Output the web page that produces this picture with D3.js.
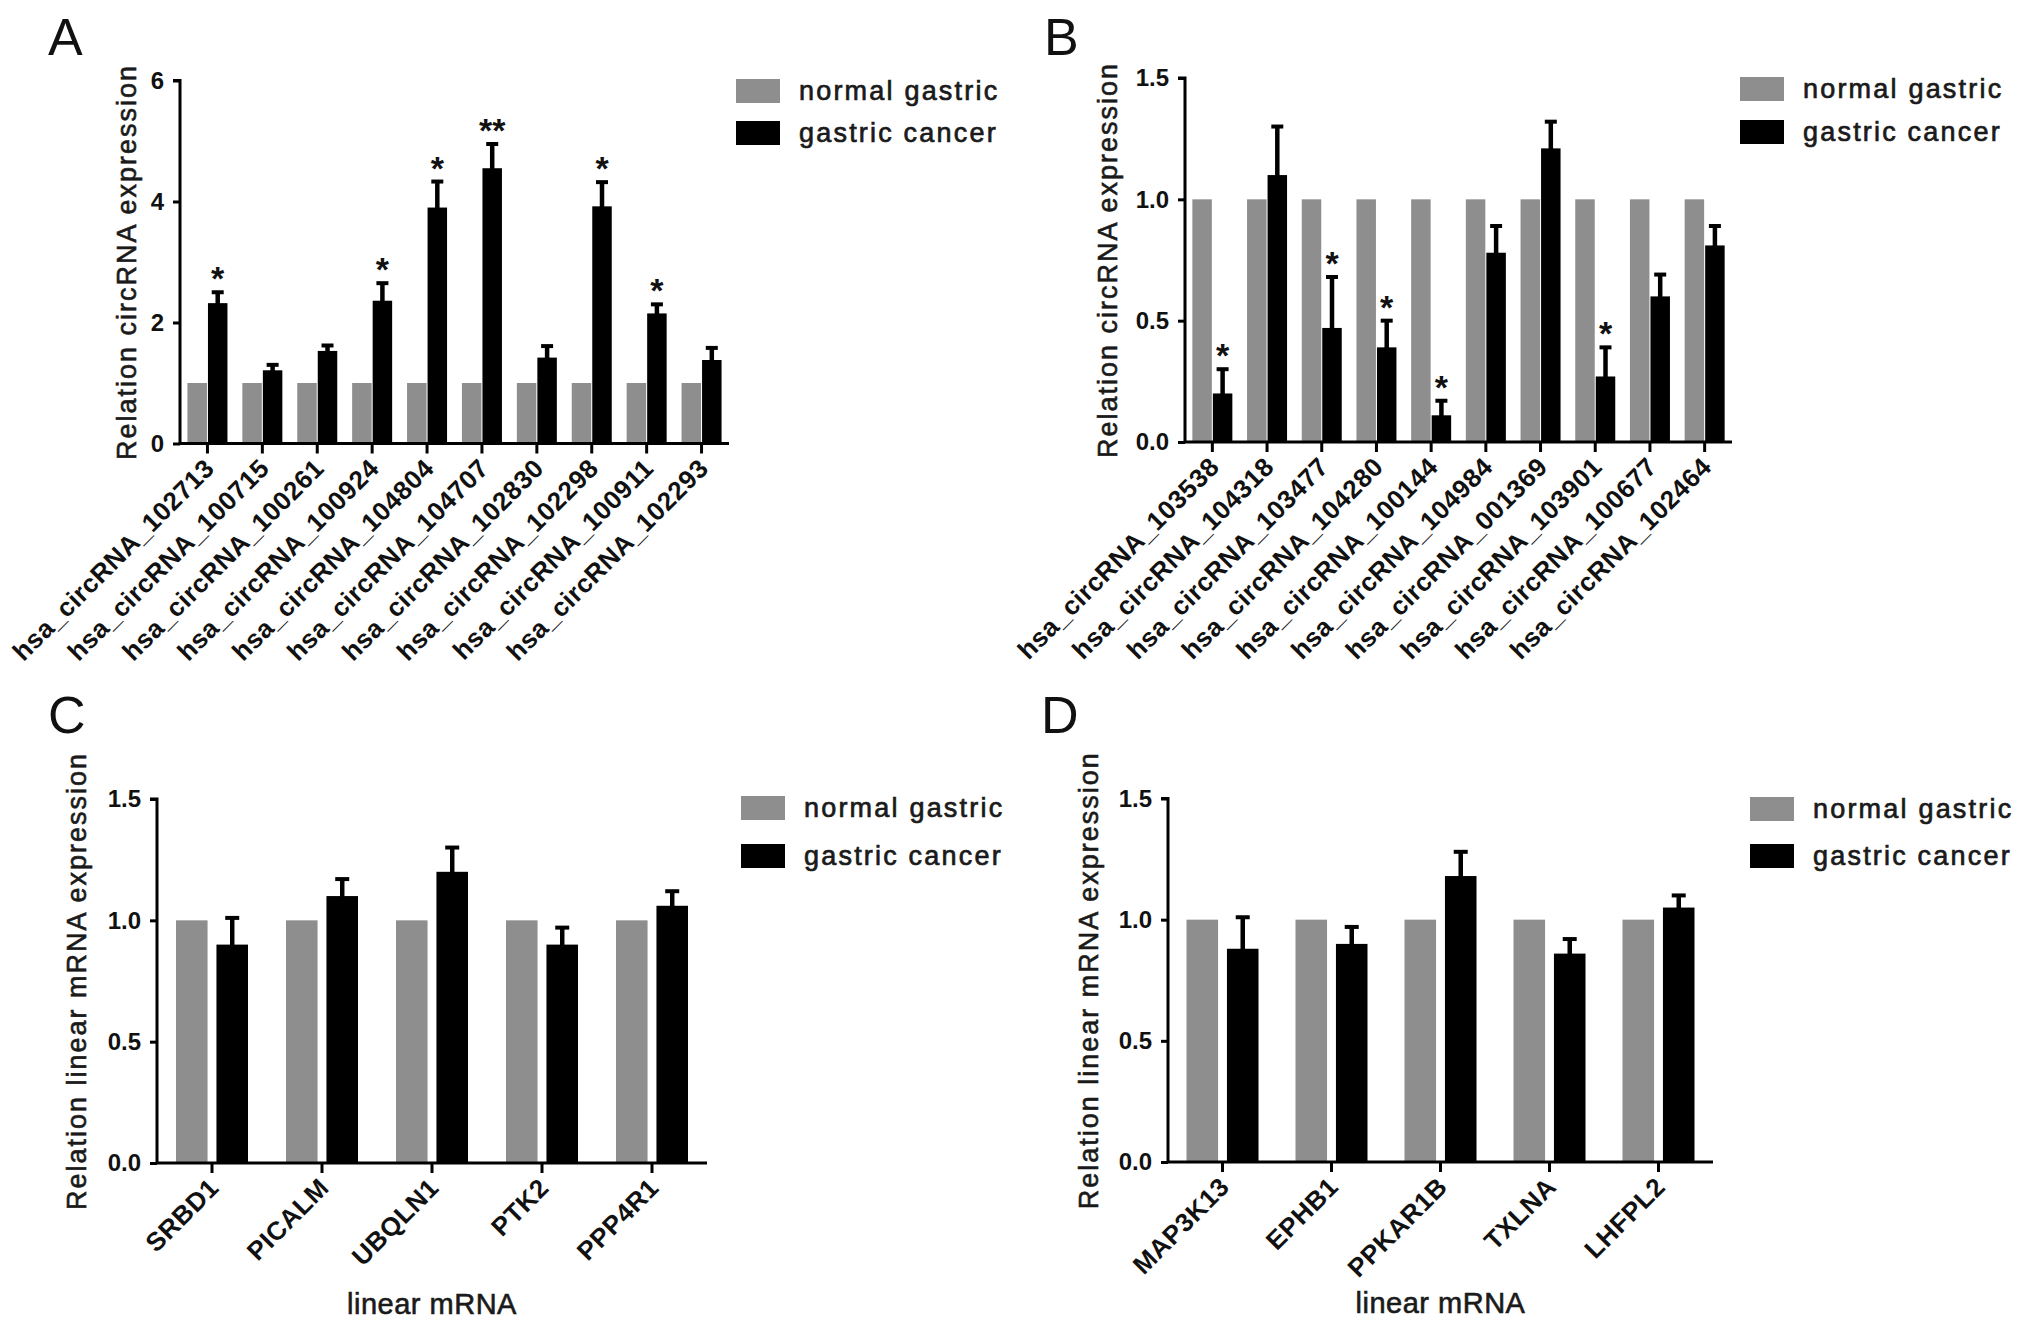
<!DOCTYPE html>
<html>
<head>
<meta charset="utf-8">
<script src="https://cdn.jsdelivr.net/npm/d3@7"></script>
<style>
  body { margin: 0; background: #fff; }
  svg { display: block; font-family: "Liberation Sans", Arial, sans-serif; }
</style>
</head>
<body>
<div id="chart"></div>
<script>
// series names
const seriesNames = ["normal gastric", "gastric cancer"];
const seriesColors = ["#8e8e8e", "#000000"];

// panel A - circRNA up
const genesA = ["hsa_circRNA_102713", "hsa_circRNA_100715", "hsa_circRNA_100261", "hsa_circRNA_100924", "hsa_circRNA_104804",
  "hsa_circRNA_104707", "hsa_circRNA_102830", "hsa_circRNA_102298", "hsa_circRNA_100911", "hsa_circRNA_102293"];
const normalA = [1, 1, 1, 1, 1, 1, 1, 1, 1, 1];
const cancerA = [2.32, 1.21, 1.53, 2.36, 3.90, 4.55, 1.42, 3.92, 2.15, 1.38];
const semA = [0.18, 0.09, 0.09, 0.29, 0.43, 0.40, 0.19, 0.40, 0.15, 0.20];
const starsA = ["*", "", "", "*", "*", "**", "", "*", "*", ""];
const ticksA = [0, 2, 4, 6];

// panel B - circRNA down
const genesB = ["hsa_circRNA_103538", "hsa_circRNA_104318", "hsa_circRNA_103477", "hsa_circRNA_104280", "hsa_circRNA_100144",
  "hsa_circRNA_104984", "hsa_circRNA_001369", "hsa_circRNA_103901", "hsa_circRNA_100677", "hsa_circRNA_102464"];
const normalB = [1, 1, 1, 1, 1, 1, 1, 1, 1, 1];
const cancerB = [0.20, 1.10, 0.47, 0.39, 0.11, 0.78, 1.21, 0.27, 0.60, 0.81];
const semB = [0.10, 0.20, 0.21, 0.11, 0.06, 0.11, 0.11, 0.12, 0.09, 0.08];
const starsB = ["*", "", "*", "*", "*", "", "", "*", "", ""];

// panel C / D - linear mRNA
const genesC = ["SRBD1", "PICALM", "UBQLN1", "PTK2", "PPP4R1"];
const normalC = [1, 1, 1, 1, 1];
const cancerC = [0.90, 1.10, 1.20, 0.90, 1.06];
const semC = [0.11, 0.07, 0.10, 0.07, 0.06];

const genesD = ["MAP3K13", "EPHB1", "PPKAR1B", "TXLNA", "LHFPL2"];
const normalD = [1, 1, 1, 1, 1];
const cancerD = [0.88, 0.90, 1.18, 0.86, 1.05];
const semD = [0.13, 0.07, 0.10, 0.06, 0.05];

const ticksLinear = [0, 0.5, 1.0, 1.5];

const W = 2031, H = 1328;

const svg = d3.select("#chart").append("svg")
  .attr("width", W)
  .attr("height", H);

// layout of each panel (pixels)
const panels = [
  { letter: "A", genes: genesA, normal: normalA, cancer: cancerA, sem: semA, stars: starsA,
    yMax: 6, ticks: ticksA, fmt: d3.format("d"), yLabel: "Relation circRNA expression", xTitle: null,
    x0: 180, x1: 729, yTop: 80.5, yBot: 443.5, half: 20, pad: 0.05, cap: 12,
    labelX: 136, legX: 736, legY: [79, 121], letterX: 48, letterY: 55 },
  { letter: "B", genes: genesB, normal: normalB, cancer: cancerB, sem: semB, stars: starsB,
    yMax: 1.5, ticks: ticksLinear, fmt: d3.format(".1f"), yLabel: "Relation circRNA expression", xTitle: null,
    x0: 1185, x1: 1732, yTop: 78, yBot: 442, half: 20, pad: 0.05, cap: 12,
    labelX: 1117, legX: 1740, legY: [77, 120], letterX: 1044, letterY: 55 },
  { letter: "C", genes: genesC, normal: normalC, cancer: cancerC, sem: semC, stars: null,
    yMax: 1.5, ticks: ticksLinear, fmt: d3.format(".1f"), yLabel: "Relation linear mRNA expression", xTitle: "linear mRNA",
    x0: 157, x1: 707, yTop: 799, yBot: 1163, half: 36, pad: 0.22, cap: 14,
    labelX: 86, legX: 741, legY: [796, 844], letterX: 48, letterY: 733 },
  { letter: "D", genes: genesD, normal: normalD, cancer: cancerD, sem: semD, stars: null,
    yMax: 1.5, ticks: ticksLinear, fmt: d3.format(".1f"), yLabel: "Relation linear mRNA expression", xTitle: "linear mRNA",
    x0: 1168, x1: 1713, yTop: 798.5, yBot: 1162, half: 36, pad: 0.22, cap: 14,
    labelX: 1098, legX: 1750, legY: [797, 844], letterX: 1041, letterY: 733 }
];

function drawPanel(p) {
  const g = svg.append("g");

  const rows = p.genes.map((gene, i) => ({
    gene: gene,
    values: [
      { key: seriesNames[0], value: p.normal[i], sem: 0 },
      { key: seriesNames[1], value: p.cancer[i], sem: p.sem[i] }
    ],
    star: p.stars ? p.stars[i] : ""
  }));

  const x = d3.scaleBand()
    .domain(p.genes)
    .range([p.x0, p.x1])
    .paddingInner(0)
    .paddingOuter(0);

  const xSub = d3.scaleBand()
    .domain(seriesNames)
    .range([x.bandwidth() / 2 - p.half, x.bandwidth() / 2 + p.half])
    .paddingInner(p.pad);

  const y = d3.scaleLinear()
    .domain([0, p.yMax])
    .range([p.yBot, p.yTop]);

  // bars
  const groups = g.selectAll(".group")
    .data(rows)
    .enter().append("g")
    .attr("class", "group")
    .attr("transform", d => `translate(${x(d.gene)},0)`);

  groups.selectAll("rect")
    .data(d => d.values)
    .enter().append("rect")
    .attr("x", d => xSub(d.key))
    .attr("width", xSub.bandwidth())
    .attr("y", d => y(d.value))
    .attr("height", d => y(0) - y(d.value))
    .attr("fill", (d, i) => seriesColors[i]);

  // error bars on cancer series
  const err = groups.filter(d => d.values[1].sem > 0);
  const cx = xSub(seriesNames[1]) + xSub.bandwidth() / 2;
  err.append("line")
    .attr("x1", cx).attr("x2", cx)
    .attr("y1", d => y(d.values[1].value) + 2)
    .attr("y2", d => y(d.values[1].value + d.values[1].sem))
    .attr("stroke", "#000")
    .attr("stroke-width", 4.5);
  err.append("line")
    .attr("x1", cx - p.cap / 2).attr("x2", cx + p.cap / 2)
    .attr("y1", d => y(d.values[1].value + d.values[1].sem))
    .attr("y2", d => y(d.values[1].value + d.values[1].sem))
    .attr("stroke", "#000")
    .attr("stroke-width", 4);

  // significance stars
  groups.filter(d => d.star)
    .append("text")
    .attr("x", cx)
    .attr("y", d => y(d.values[1].value + d.values[1].sem) - 2)
    .attr("text-anchor", "middle")
    .style("font-size", "34px")
    .style("font-weight", "bold")
    .attr("fill", "#111")
    .text(d => d.star);

  // y axis
  const yAxis = d3.axisLeft(y)
    .tickValues(p.ticks)
    .tickFormat(p.fmt)
    .tickSize(7)
    .tickPadding(9);
  const ya = g.append("g")
    .attr("transform", `translate(${p.x0},0)`)
    .call(yAxis);
  ya.select(".domain").attr("d", `M-7,${p.yTop}H0V${p.yBot}`).attr("stroke-width", 3);
  ya.selectAll(".tick line").attr("stroke-width", 3);
  ya.selectAll(".tick text")
    .style("font-size", "24px")
    .style("font-weight", "bold")
    .attr("fill", "#111");

  // x axis
  const xAxis = d3.axisBottom(x)
    .tickSize(10)
    .tickFormat("");
  const xa = g.append("g")
    .attr("transform", `translate(0,${p.yBot})`)
    .call(xAxis);
  xa.select(".domain").attr("d", `M${p.x0},0H${p.x1}`).attr("stroke-width", 3);
  xa.selectAll(".tick line").attr("stroke-width", 3);

  // rotated category labels
  g.selectAll(".xlab")
    .data(p.genes)
    .enter().append("text")
    .attr("class", "xlab")
    .attr("transform", d => `translate(${x(d) + x.bandwidth() / 2 + 2},${p.yBot + 20}) rotate(-45)`)
    .attr("text-anchor", "end")
    .attr("dy", "0.35em")
    .style("font-size", "26px")
    .style("font-weight", "bold")
    .style("letter-spacing", "0.5px")
    .attr("fill", "#111")
    .text(d => d);

  // y label
  g.append("text")
    .attr("transform", `translate(${p.labelX},${(p.yTop + p.yBot) / 2}) rotate(-90)`)
    .attr("text-anchor", "middle")
    .style("font-size", "27px")
    .style("letter-spacing", "2px")
    .attr("fill", "#1a1a1a")
    .attr("stroke", "#1a1a1a")
    .attr("stroke-width", 0.6)
    .text(p.yLabel);

  // x title
  if (p.xTitle) {
    g.append("text")
      .attr("x", (p.x0 + p.x1) / 2)
      .attr("y", p.yBot + 151)
      .attr("text-anchor", "middle")
      .style("font-size", "29px")
      .style("letter-spacing", "0.5px")
      .attr("fill", "#1a1a1a")
      .attr("stroke", "#1a1a1a")
      .attr("stroke-width", 0.6)
      .text(p.xTitle);
  }

  // panel letter
  g.append("text")
    .attr("x", p.letterX)
    .attr("y", p.letterY)
    .style("font-size", "52px")
    .attr("fill", "#111")
    .text(p.letter);

  // legend
  const leg = g.selectAll(".leg")
    .data(seriesNames)
    .enter().append("g")
    .attr("class", "leg")
    .attr("transform", (d, i) => `translate(${p.legX},${p.legY[i]})`);
  leg.append("rect")
    .attr("width", 44)
    .attr("height", 24)
    .attr("fill", (d, i) => seriesColors[i]);
  leg.append("text")
    .attr("x", 63)
    .attr("y", 21)
    .style("font-size", "27px")
    .style("letter-spacing", "2.2px")
    .attr("fill", "#1a1a1a")
    .attr("stroke", "#1a1a1a")
    .attr("stroke-width", 0.7)
    .text(d => d);
}

panels.forEach(drawPanel);
</script>
</body>
</html>
